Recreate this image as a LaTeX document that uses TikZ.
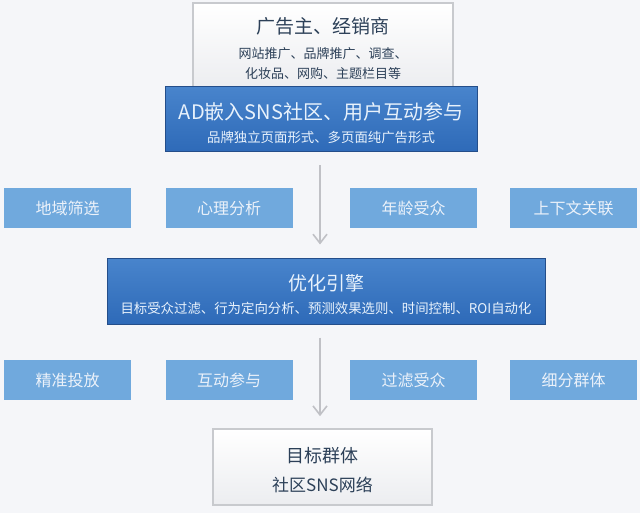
\documentclass[tikz,border=0pt]{standalone}
\usepackage{fontspec}
\setmainfont{Noto Sans CJK SC}
\usepackage{xcolor}
\usetikzlibrary{arrows.meta, positioning}

\definecolor{bgcol}{RGB}{245,246,249}
\definecolor{boxgray}{RGB}{200,202,206}
\definecolor{boxwhite}{RGB}{236,237,240}
\definecolor{inkblue}{RGB}{44,64,88}
\definecolor{bluetop}{RGB}{72,132,204}
\definecolor{bluebot}{RGB}{46,106,184}
\definecolor{bluedark}{RGB}{36,78,138}
\definecolor{bluetext}{RGB}{232,242,252}
\definecolor{tagblue}{RGB}{112,169,221}
\definecolor{tagtext}{RGB}{236,242,250}
\definecolor{arrowgray}{RGB}{192,193,198}

% taller first line pushes the text block down a little
\newcommand{\headstrut}{\rule{0pt}{1.2em}}

\begin{document}
\begin{tikzpicture}[
            x=1pt, y=-1pt,
            whitebox/.style={rectangle, draw=boxgray, line width=1.6pt, top color=white,
                             bottom color=boxwhite, text=inkblue, align=center, inner sep=0pt},
            bluebox/.style={rectangle, draw=bluedark, line width=1pt, top color=bluetop,
                            bottom color=bluebot, text=bluetext, align=center, inner sep=0pt},
            tagbox/.style={rectangle, fill=tagblue, text=tagtext, minimum width=127pt,
                           minimum height=40pt, inner sep=0pt, font=\fontsize{16}{16}\selectfont},
            arrow/.style={-{Straight Barb[length=9pt,width=14pt]}, arrowgray, line width=1.6pt}
        ]

        % ===== BACKGROUND =====
        \fill[bgcol] (0,0) rectangle (640,513);
        \coordinate (axis) at (320,0);

        % ===== ADVERTISERS =====
        \node[whitebox, minimum width=260pt, minimum height=85pt, font=\fontsize{13}{20}\selectfont]
            (adv) at (323,45.5) {{\fontsize{19}{19}\selectfont\headstrut 广告主、经销商}\\[5pt]
            网站推广、品牌推广、调查、\\化妆品、网购、主题栏目等};

        % ===== SNS EMBEDDING =====
        \node[bluebox, minimum width=312pt, minimum height=65pt, font=\fontsize{13.4}{22.5}\selectfont]
            (embed) at (321,119.5) {{\fontsize{20}{20}\selectfont\headstrut AD嵌入SNS社区、用户互动参与}\\
            品牌独立页面形式、多页面纯广告形式};

        % ===== FIRST TAG ROW =====
        \node[tagbox] (region) at (67.5,208) {地域筛选};
        \node[tagbox] (psych) at (229,208) {心理分析};
        \node[tagbox] (age) at (413.5,208) {年龄受众};
        \node[tagbox] (context) at (573.5,208) {上下文关联};

        % ===== OPTIMIZATION ENGINE =====
        \node[bluebox, minimum width=438pt, minimum height=65pt, font=\fontsize{13.4}{22.9}\selectfont]
            (engine) at (326,291.5) {{\fontsize{19}{19}\selectfont\headstrut 优化引擎}\\
            目标受众过滤、行为定向分析、预测效果选则、时间控制、ROI自动化};

        % ===== SECOND TAG ROW =====
        \node[tagbox] (precise) at (67.5,380) {精准投放};
        \node[tagbox] (interact) at (229,380) {互动参与};
        \node[tagbox] (filter) at (413.5,380) {过滤受众};
        \node[tagbox] (segment) at (573.5,380) {细分群体};

        % ===== TARGET GROUP =====
        \node[whitebox, minimum width=219pt, minimum height=76pt, font=\fontsize{17}{29.7}\selectfont]
            (target) at (322.5,467) {{\fontsize{18}{18}\selectfont\headstrut 目标群体}\\社区SNS网络};

        % ===== ARROWS =====
        \draw[arrow, shorten <=13pt, shorten >=14pt] (axis |- embed.south) -- (axis |- engine.north);
        \draw[arrow, shorten <=13pt, shorten >=12pt] (axis |- engine.south) -- (axis |- target.north);

        \end{tikzpicture}
\end{document}
